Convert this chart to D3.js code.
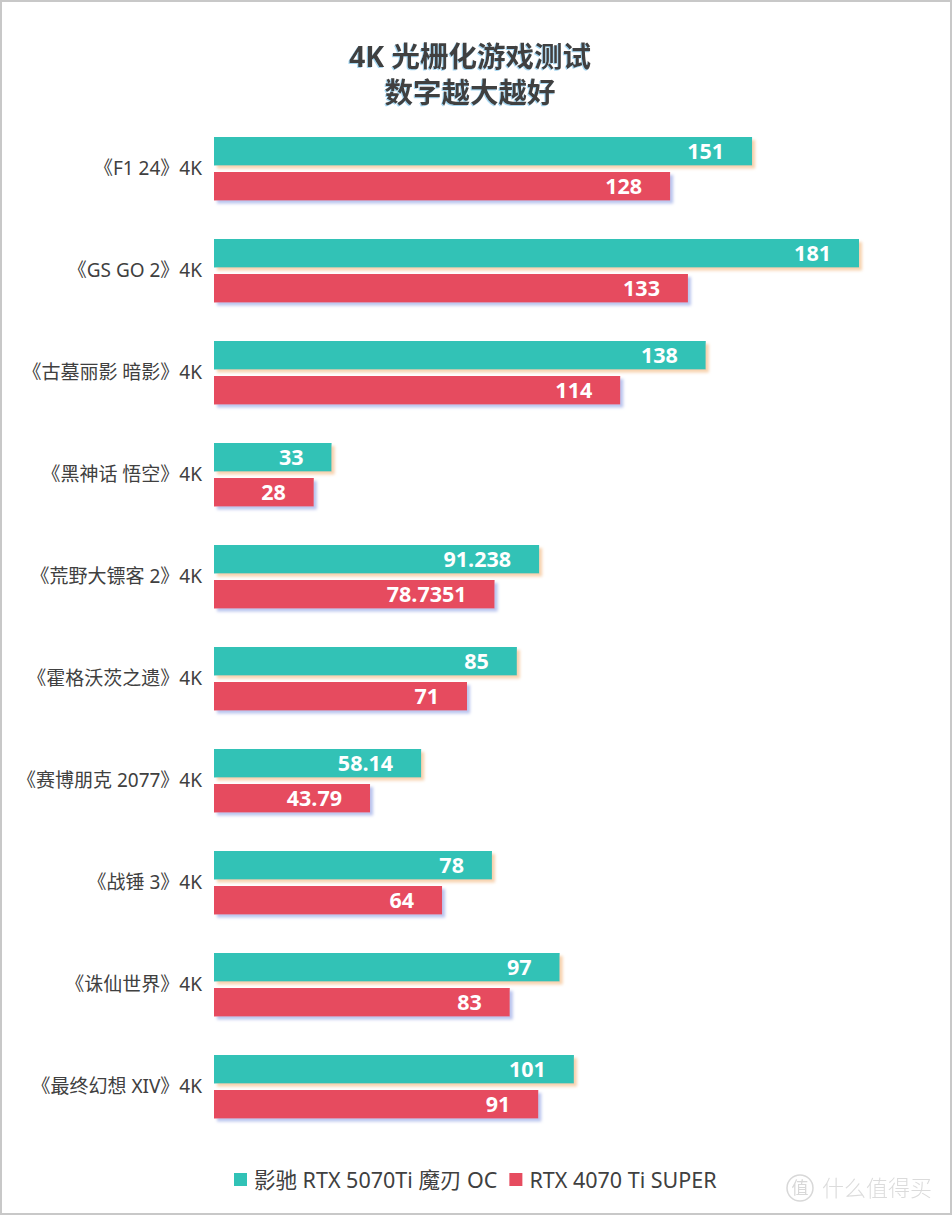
<!DOCTYPE html>
<html><head><meta charset="utf-8">
<script src="https://cdn.jsdelivr.net/npm/d3@7/dist/d3.min.js"></script>
<style>
html,body{margin:0;padding:0;background:#fff;}
svg{display:block;}
</style></head>
<body>
<svg id="chart" width="952" height="1215"></svg>
<script>
const categories = ["《F1 24》4K","《GS GO 2》4K","《古墓丽影 暗影》4K","《黑神话 悟空》4K","《荒野大镖客 2》4K","《霍格沃茨之遗》4K","《赛博朋克 2077》4K","《战锤 3》4K","《诛仙世界》4K","《最终幻想 XIV》4K"];
const seriesNames = ["影驰 RTX 5070Ti 魔刃 OC","RTX 4070 Ti SUPER"];
const seriesA = [151,181,138,33,91.238,85,58.14,78,97,101];
const seriesB = [128,133,114,28,78.7351,71,43.79,64,83,91];
const titleLines = ["4K 光栅化游戏测试","数字越大越好"];
const colors = ["#31c2b6","#e64c5f"];
const shadowColors = ["#f7d2ae","#b9c4ee"];

const svg = d3.select("#chart");
const W = 952, H = 1215;
const font = "'Noto Sans','Noto Sans CJK SC',sans-serif";
const cjk = "'Noto Sans CJK SC','Noto Sans',sans-serif";

svg.append("rect").attr("x",1).attr("y",1).attr("width",W-2).attr("height",H-2)
  .attr("fill","#fff").attr("stroke","#c8c8c8").attr("stroke-width",2);

const defs = svg.append("defs");
shadowColors.forEach((c,i)=>{
  const f = defs.append("filter").attr("id","sh"+i).attr("x","-5%").attr("y","-30%").attr("width","115%").attr("height","180%");
  f.append("feDropShadow").attr("dx",3).attr("dy",3).attr("stdDeviation",1.8).attr("flood-color",c).attr("flood-opacity",1);
});
const tf = defs.append("filter").attr("id","tsh").attr("x","-5%").attr("y","-20%").attr("width","110%").attr("height","140%");
tf.append("feDropShadow").attr("dx",-1).attr("dy",1).attr("stdDeviation",0.5).attr("flood-color","#9fd3f0").attr("flood-opacity",0.9);

svg.append("g").selectAll("text").data(titleLines).join("text")
  .attr("x",470).attr("y",(d,i)=>57+i*36).attr("dy","0.35em")
  .attr("text-anchor","middle").attr("font-family",font).attr("font-weight","bold")
  .attr("font-size",28.5).attr("fill","#404040").attr("filter","url(#tsh)").text(d=>d);

const x = d3.scaleLinear().domain([0,181]).range([214,859]);
const y = d3.scaleBand().domain(categories).range([117,1137]);
const barH = 28.5;

const g = svg.append("g");
g.selectAll("text.cat").data(categories).join("text").attr("class","cat")
  .attr("x",202).attr("y",d=>y(d)+y.bandwidth()/2).attr("dy","0.35em")
  .attr("text-anchor","end").attr("font-family",font).attr("font-size",19)
  .attr("fill","#404040").text(d=>d);

const series = [seriesA, seriesB];
const offsets = [-31, 4];
series.forEach((vals,si)=>{
  const data = categories.map((c,i)=>({c,v:vals[i]}));
  g.append("g").selectAll("rect").data(data).join("rect")
    .attr("x",x(0)).attr("y",d=>y(d.c)+y.bandwidth()/2+offsets[si])
    .attr("width",d=>x(d.v)-x(0)).attr("height",barH)
    .attr("fill",colors[si]).attr("filter","url(#sh"+si+")");
  g.append("g").selectAll("text").data(data).join("text")
    .attr("x",d=>x(d.v)-28).attr("y",d=>y(d.c)+y.bandwidth()/2+offsets[si]+barH/2).attr("dy","0.36em")
    .attr("text-anchor","end").attr("font-family","'Open Sans','Noto Sans',sans-serif").attr("font-weight","bold")
    .attr("font-size",21.5).attr("fill","#fff").text(d=>d.v);
});

const lg = svg.append("g");
let lx = 234;
seriesNames.forEach((n,i)=>{
  lg.append("rect").attr("x",lx).attr("y",1173).attr("width",13).attr("height",13).attr("fill",colors[i]);
  const t = lg.append("text").attr("x",lx+20).attr("y",1180).attr("dy","0.35em")
    .attr("font-family",font).attr("font-size",21.5).attr("fill","#404040").text(n);
  lx += 20 + t.node().getComputedTextLength() + 12;
});

const wm = svg.append("g").attr("opacity",0.9);
wm.append("circle").attr("cx",800).attr("cy",1188).attr("r",13).attr("fill","none").attr("stroke","#d4d4d4").attr("stroke-width",1.5);
wm.append("text").attr("x",800).attr("y",1188).attr("dy","0.35em").attr("text-anchor","middle")
  .attr("font-family",cjk).attr("font-size",17).attr("fill","#d4d4d4").text("值");
wm.append("text").attr("x",822).attr("y",1188).attr("dy","0.35em")
  .attr("font-family",cjk).attr("font-size",22).attr("fill","#d8d8d8").attr("font-weight",300).text("什么值得买");
</script>
</body></html>
